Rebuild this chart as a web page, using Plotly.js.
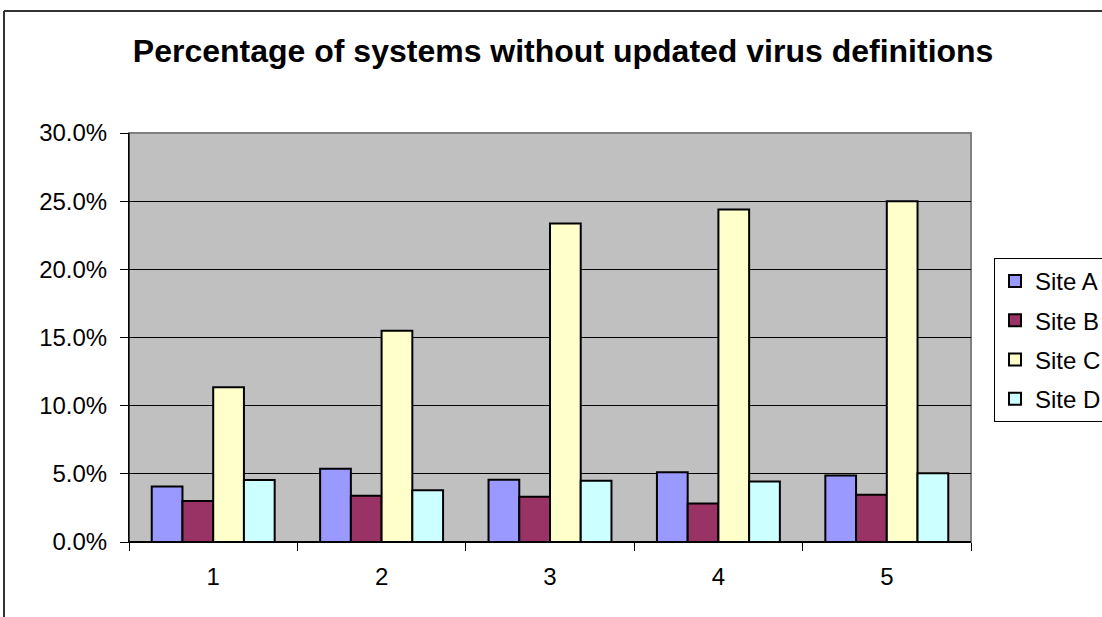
<!DOCTYPE html>
<html>
<head>
<meta charset="utf-8">
<script src="https://cdn.plot.ly/plotly-3.0.1.min.js"></script>
<style>html,body{margin:0;padding:0;background:#fff;}#chart{width:1102px;height:617px;}</style>
</head>
<body>
<div id="chart"></div>
<script>
const categories = ["1", "2", "3", "4", "5"];
const seriesNames = ["Site A", "Site B", "Site C", "Site D"];
const siteA = [4.07, 5.37, 4.56, 5.12, 4.88];
const siteB = [3.01, 3.40, 3.31, 2.82, 3.46];
const siteC = [11.35, 15.5, 23.36, 24.39, 25.0];
const siteD = [4.54, 3.80, 4.49, 4.43, 5.05];
const yTickVals = [0, 5, 10, 15, 20, 25, 30];
const yTickText = ["0.0%", "5.0%", "10.0%", "15.0%", "20.0%", "25.0%", "30.0%"];
const colors = ["#9999FF", "#993366", "#FFFFCC", "#CCFFFF"];

const values = [siteA, siteB, siteC, siteD];
const traces = values.map((v, i) => ({
  type: "bar",
  name: seriesNames[i],
  x: categories,
  y: v,
  legendgroup: "g" + i,
  marker: {color: colors[i], line: {color: "#000000", width: 2}}
}));

const font = "Arial, 'Liberation Sans', sans-serif";
const layout = {
  width: 1102, height: 617,
  margin: {l: 129, r: 131, t: 133, b: 75, autoexpand: false},
  paper_bgcolor: "#ffffff",
  plot_bgcolor: "#C0C0C0",
  barmode: "group",
  bargap: 0.27,
  bargroupgap: 0,
  font: {family: font, color: "#000000", size: 24},
  title: {
    text: "<b>Percentage of systems without updated virus definitions</b>",
    font: {family: font, size: 32, color: "#000000"},
    x: 0.511, xanchor: "center", xref: "container",
    y: 1 - 51/617, yanchor: "middle", yref: "container"
  },
  xaxis: {
    type: "category",
    showgrid: false,
    showline: true, linecolor: "#000000", linewidth: 1,
    ticks: "outside", tickson: "boundaries", ticklen: 8, tickcolor: "#000000",
    ticklabelstandoff: 13,
    tickfont: {family: font, size: 24, color: "#000000"},
    zeroline: false,
    fixedrange: true
  },
  yaxis: {
    range: [0, 30],
    tickvals: yTickVals,
    ticktext: yTickText,
    showgrid: true, gridcolor: "#000000", gridwidth: 1,
    showline: true, linecolor: "#000000", linewidth: 1,
    ticks: "outside", ticklen: 8, tickcolor: "#000000",
    ticklabelstandoff: 8,
    tickfont: {family: font, size: 24, color: "#000000"},
    zeroline: false,
    fixedrange: true
  },
  legend: {
    x: (994 - 129) / 842, xanchor: "left", xref: "paper",
    y: (542 - 258) / 409, yanchor: "top", yref: "paper",
    bgcolor: "#ffffff", bordercolor: "#000000", borderwidth: 1,
    font: {family: font, size: 24, color: "#000000"},
    tracegroupgap: 5,
    traceorder: "grouped"
  },
  showlegend: true,
  shapes: [
    {type: "rect", xref: "paper", yref: "paper", x0: 0, x1: 1, y0: 0, y1: 1,
     line: {color: "#808080", width: 2}, layer: "below"},
    {type: "line", xref: "paper", yref: "paper", x0: 0, x1: 0, y0: 0, y1: 1,
     line: {color: "#000000", width: 1}},
    {type: "line", xref: "paper", yref: "paper", x0: 0, x1: 1, y0: 0, y1: 0,
     line: {color: "#000000", width: 2}},
    {type: "line", xref: "paper", yref: "paper",
     x0: (4 - 129) / 842, x1: (1102 - 129) / 842 + 0.01,
     y0: (542 - 11) / 409, y1: (542 - 11) / 409,
     line: {color: "#333333", width: 2}},
    {type: "line", xref: "paper", yref: "paper",
     x0: (4 - 129) / 842, x1: (4 - 129) / 842,
     y0: (542 - 11) / 409, y1: (542 - 620) / 409,
     line: {color: "#333333", width: 2}}
  ]
};

Plotly.newPlot("chart", traces, layout, {displayModeBar: false, staticPlot: true});
</script>
</body>
</html>
